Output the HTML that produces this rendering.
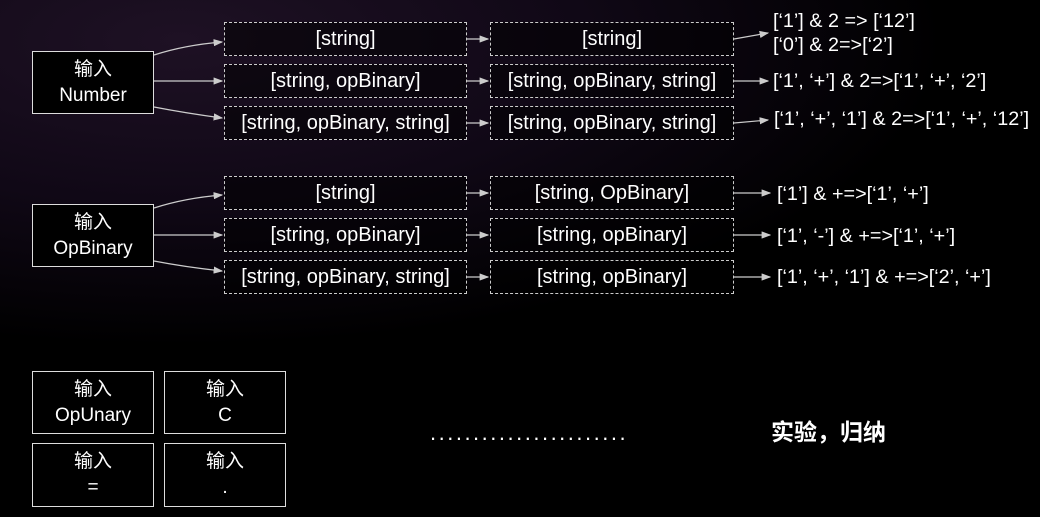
<!DOCTYPE html>
<html><head><meta charset="utf-8"><style>
html,body{margin:0;padding:0}
body{width:1040px;height:517px;overflow:hidden;position:relative;font-family:"Liberation Sans","Noto Sans CJK SC",sans-serif;color:#fff;
background:radial-gradient(ellipse 900px 360px at 180px 40px,#1e1124 0%,#100816 45%,#000 85%);}
.b{position:absolute;box-sizing:border-box;border:1.5px solid #ddd;display:flex;align-items:center;justify-content:center;text-align:center;font-size:19px;line-height:26px;background:#000}
.d{position:absolute;box-sizing:border-box;border:1.2px dashed #ccc;height:34px;display:flex;align-items:center;justify-content:center;font-size:20px;background:rgba(0,0,0,.5);white-space:nowrap}
.c1{left:224px;width:243px}.c2{left:490px;width:244px}
.t{position:absolute;font-size:19.8px;white-space:nowrap;line-height:24px}
</style></head><body>
<svg width="1040" height="517" style="position:absolute;left:0;top:0">
<defs><marker id="a" markerWidth="8" markerHeight="6" refX="7" refY="3" orient="auto"><path d="M0,0L8,3L0,6z" fill="#ccc"/></marker></defs>
<g stroke="#ccc" stroke-width="1.2" fill="none" marker-end="url(#a)">
<path d="M154,55 Q185,45 222,42"/><path d="M154,81 L222,81"/><path d="M154,107 Q185,113 222,118"/>
<path d="M154,208 Q185,198 222,195"/><path d="M154,235 L222,235"/><path d="M154,261 Q185,267 222,271"/>
<path d="M467,39 L488,39"/><path d="M467,81 L488,81"/><path d="M467,123 L488,123"/>
<path d="M467,193 L488,193"/><path d="M467,235 L488,235"/><path d="M467,277 L488,277"/>
<path d="M734,39 L768,33"/><path d="M734,81 L768,81"/><path d="M734,123 L768,120"/>
<path d="M734,193 L770,193"/><path d="M734,235 L770,235"/><path d="M734,277 L770,277"/>
</g></svg>
<div class="b" style="left:32px;top:51px;width:122px;height:63px">输入<br>Number</div>
<div class="b" style="left:32px;top:204px;width:122px;height:63px">输入<br>OpBinary</div>
<div class="d c1" style="top:22px">[string]</div><div class="d c2" style="top:22px">[string]</div>
<div class="d c1" style="top:64px">[string, opBinary]</div><div class="d c2" style="top:64px">[string, opBinary, string]</div>
<div class="d c1" style="top:106px">[string, opBinary, string]</div><div class="d c2" style="top:106px">[string, opBinary, string]</div>
<div class="d c1" style="top:176px">[string]</div><div class="d c2" style="top:176px">[string, OpBinary]</div>
<div class="d c1" style="top:218px">[string, opBinary]</div><div class="d c2" style="top:218px">[string, opBinary]</div>
<div class="d c1" style="top:260px">[string, opBinary, string]</div><div class="d c2" style="top:260px">[string, opBinary]</div>
<div class="t" style="left:773px;top:9px">[‘1’] &amp; 2 =&gt; [‘12’]<br>[‘0’] &amp; 2=&gt;[‘2’]</div>
<div class="t" style="left:773px;top:69px">[‘1’, ‘+’] &amp; 2=&gt;[‘1’, ‘+’, ‘2’]</div>
<div class="t" style="left:774px;top:107px">[‘1’, ‘+’, ‘1’] &amp; 2=&gt;[‘1’, ‘+’, ‘12’]</div>
<div class="t" style="left:777px;top:182px">[‘1’] &amp; +=&gt;[‘1’, ‘+’]</div>
<div class="t" style="left:777px;top:224px">[‘1’, ‘-’] &amp; +=&gt;[‘1’, ‘+’]</div>
<div class="t" style="left:777px;top:265px">[‘1’, ‘+’, ‘1’] &amp; +=&gt;[‘2’, ‘+’]</div>
<div class="b" style="left:32px;top:371px;width:122px;height:63px">输入<br>OpUnary</div>
<div class="b" style="left:164px;top:371px;width:122px;height:63px">输入<br>C</div>
<div class="b" style="left:32px;top:443px;width:122px;height:64px">输入<br>=</div>
<div class="b" style="left:164px;top:443px;width:122px;height:64px">输入<br>.</div>
<div class="t" style="left:430px;top:421px;font-size:22px;letter-spacing:2.5px">.......................</div>
<div class="t" style="left:771px;top:418px;font-size:23px;font-weight:bold;line-height:28px">实验，归纳</div>
</body></html>
